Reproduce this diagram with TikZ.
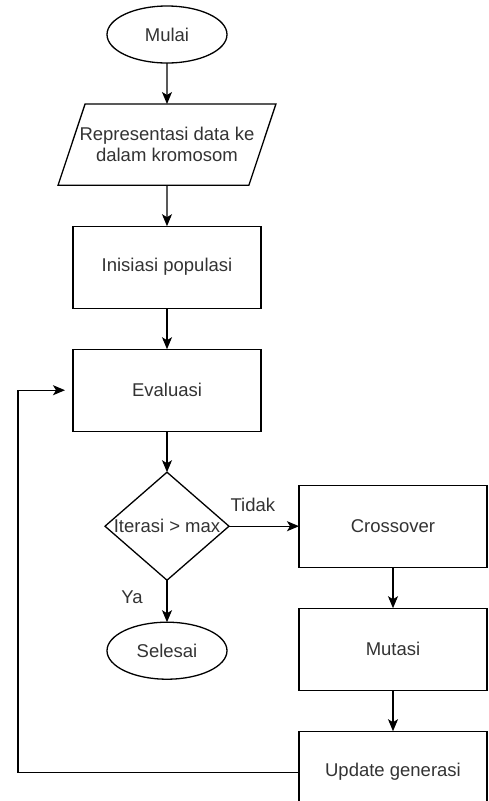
\documentclass[tikz,border=0pt]{standalone}
\usepackage{fontspec}
\setmainfont{Liberation Sans}
\usetikzlibrary{arrows.meta,positioning,shapes.geometric}

\begin{document}
\begin{tikzpicture}[
  x=1pt, y=1pt,
  node distance=41pt and 70pt,
  every node/.style={font=\fontsize{18.5}{21}\selectfont, text=black!80},
  base/.style={draw, line width=1.3pt, outer sep=0pt, align=center},
  terminal/.style={base, ellipse, minimum width=120pt, minimum height=57pt},
  io/.style={base, trapezium, trapezium left angle=71.6, trapezium right angle=108.4, inner xsep=-5.5pt, inner ysep=23.3pt, minimum height=81pt},
  process/.style={base, rectangle, minimum width=188pt, minimum height=82pt},
  decision/.style={base, diamond, minimum width=124pt, minimum height=108pt, inner sep=0pt},
  arrow/.style={-{Stealth[length=12pt, width=10pt, inset=3pt]}, line width=1.3pt}
]
\useasboundingbox (0,0) rectangle (488,-801);

\node[terminal] (mulai) at (167,-34.5) {Mulai};
\node[io, below=of mulai] (repr) {Representasi data ke\\dalam kromosom};
\node[process, below=of repr] (init) {Inisiasi populasi};
\node[process, below=of init] (eval) {Evaluasi};
\node[decision, below=of eval] (cek) {\makebox[0pt]{Iterasi > max}};
\node[terminal, below=42pt of cek] (selesai) {Selesai};

\node[process, right=of cek] (cross) {Crossover};
\node[process, below=of cross] (mutasi) {Mutasi};
\node[process, below=of mutasi] (update) {Update generasi};
\coordinate[left=281pt of update.west] (balik);

\draw[arrow] (mulai) -- (repr);
\draw[arrow] (repr) -- (init);
\draw[arrow] (init) -- (eval);
\draw[arrow] (eval) -- (cek);
\draw[arrow] (cek) -- node[pos=0.34, yshift=21pt] {Tidak} (cross);
\draw[arrow] (cek) -- node[pos=0.4, xshift=-35pt] {Ya} (selesai);
\draw[arrow] (cross) -- (mutasi);
\draw[arrow] (mutasi) -- (update);
\draw[arrow, shorten >=8pt] (update) -- (balik) |- (eval);
\end{tikzpicture}
\end{document}
